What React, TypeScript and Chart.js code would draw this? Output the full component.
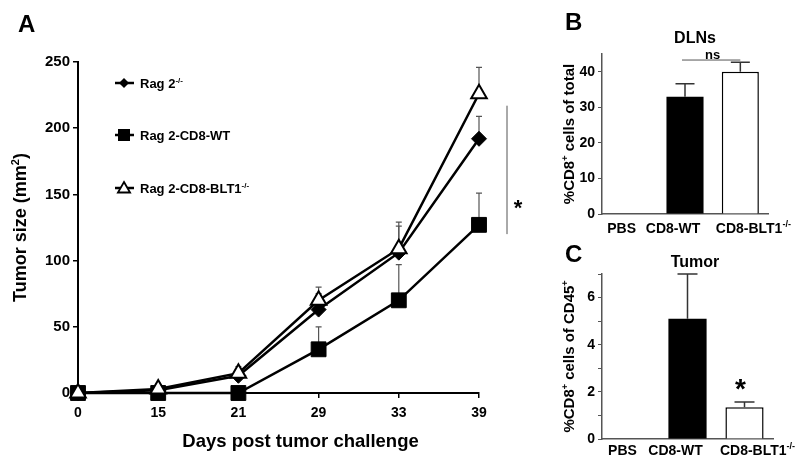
import React, { useEffect, useRef } from 'react';
import { Chart, registerables } from 'chart.js';

Chart.register(...registerables);

const FONT = '"Liberation Sans", Arial, Helvetica, sans-serif';

// ---- Panel A data ----
const days = ['0', '15', '21', '29', '33', '39'];
const rag2 = [0, 2, 13, 63, 106, 192];
const rag2Err = [0, 2, 4, 12, 20, 17];
const cd8wt = [0, 0, 0, 33, 70, 127];
const cd8wtErr = [0, 0, 2, 17, 27, 24];
const blt1 = [0, 3, 15, 70, 109, 226];
const blt1Err = [0, 2, 5, 10, 20, 20];

// ---- Panel B / C data ----
const groups = ['PBS', 'CD8-WT', 'CD8-BLT1'];
const dlnValues = [0, 33, 40];
const dlnErr = [0, 3.6, 2.7];
const tumorValues = [0, 5.1, 1.35];
const tumorErr = [0, 1.9, 0.22];

type Part = { t: string; sup?: boolean };

function drawRich(ctx: CanvasRenderingContext2D, parts: Part[], x: number, y: number, size: number, align: 'left' | 'center') {
  const supSize = Math.round(size * 0.62);
  const widths = parts.map((p) => {
    ctx.font = `bold ${p.sup ? supSize : size}px ${FONT}`;
    return ctx.measureText(p.t).width;
  });
  const total = widths.reduce((a, b) => a + b, 0);
  let cx = align === 'center' ? x - total / 2 : x;
  ctx.textAlign = 'left';
  ctx.textBaseline = 'alphabetic';
  parts.forEach((p, i) => {
    ctx.font = `bold ${p.sup ? supSize : size}px ${FONT}`;
    ctx.fillText(p.t, cx, p.sup ? y - size * 0.4 : y);
    cx += widths[i];
  });
}

function drawStar(ctx: CanvasRenderingContext2D, x: number, cy: number, size: number) {
  ctx.font = `bold ${size}px ${FONT}`;
  ctx.textAlign = 'center';
  ctx.textBaseline = 'alphabetic';
  ctx.fillText('*', x, cy + size * 0.57);
}

function marker(ctx: CanvasRenderingContext2D, kind: string, x: number, y: number, r: number) {
  ctx.beginPath();
  if (kind === 'diamond') {
    ctx.moveTo(x - r, y); ctx.lineTo(x, y - r); ctx.lineTo(x + r, y); ctx.lineTo(x, y + r);
    ctx.closePath();
    ctx.fillStyle = '#000'; ctx.fill();
  } else if (kind === 'square') {
    ctx.rect(x - r, y - r, 2 * r, 2 * r);
    ctx.fillStyle = '#000'; ctx.fill();
  } else {
    ctx.moveTo(x, y - r);
    ctx.lineTo(x + r * 0.866, y + r / 2);
    ctx.lineTo(x - r * 0.866, y + r / 2);
    ctx.closePath();
    ctx.fillStyle = '#fff'; ctx.fill();
    ctx.lineWidth = 1.8; ctx.strokeStyle = '#000'; ctx.stroke();
  }
}

const lineErrorPlugin = {
  id: 'lineErrors',
  beforeDatasetsDraw(chart: any) {
    const ctx = chart.ctx;
    const y = chart.scales.y;
    ctx.save();
    ctx.strokeStyle = '#555';
    ctx.lineWidth = 1.2;
    chart.data.datasets.forEach((ds: any, di: number) => {
      const meta = chart.getDatasetMeta(di);
      meta.data.forEach((pt: any, i: number) => {
        const e = ds.errors[i];
        if (!e) return;
        const top = y.getPixelForValue(ds.data[i] + e);
        ctx.beginPath();
        ctx.moveTo(pt.x, pt.y);
        ctx.lineTo(pt.x, top);
        ctx.moveTo(pt.x - 3, top);
        ctx.lineTo(pt.x + 3, top);
        ctx.stroke();
      });
    });
    ctx.restore();
  },
};

const annotA = {
  id: 'annotA',
  afterDraw(chart: any) {
    const ctx = chart.ctx;
    const area = chart.chartArea;
    const y = chart.scales.y;
    ctx.save();
    ctx.fillStyle = '#000';
    // panel letter
    ctx.font = `bold 24px ${FONT}`;
    ctx.textAlign = 'left';
    ctx.textBaseline = 'alphabetic';
    ctx.fillText('A', 18, 32);
    // legend
    const legend = [
      { kind: 'diamond', r: 5, parts: [{ t: 'Rag 2' }, { t: '-/-', sup: true }] },
      { kind: 'square', r: 6, parts: [{ t: 'Rag 2-CD8-WT' }] },
      { kind: 'triangle', r: 7, parts: [{ t: 'Rag 2-CD8-BLT1' }, { t: '-/-', sup: true }] },
    ];
    const rows = [83, 135, 188];
    legend.forEach((l, i) => {
      const ly = rows[i];
      ctx.strokeStyle = '#000';
      ctx.lineWidth = 2.5;
      ctx.beginPath();
      ctx.moveTo(area.left + 37, ly);
      ctx.lineTo(area.left + 56, ly);
      ctx.stroke();
      marker(ctx, l.kind, area.left + 46, ly + (l.kind === 'triangle' ? 1 : 0), l.r);
      ctx.fillStyle = '#000';
      drawRich(ctx, l.parts as Part[], area.left + 62, ly + 5, 13, 'left');
    });
    // y title
    ctx.save();
    ctx.translate(26, (area.top + area.bottom) / 2);
    ctx.rotate(-Math.PI / 2);
    drawRich(ctx, [{ t: 'Tumor size (mm' }, { t: '2', sup: true }, { t: ')' }], 0, 0, 18, 'center');
    ctx.restore();
    // x title
    drawRich(ctx, [{ t: 'Days post tumor challenge' }], (area.left + area.right) / 2 + 22, 447, 18.5, 'center');
    // significance bracket
    const bx = area.right + 28;
    ctx.strokeStyle = '#555';
    ctx.lineWidth = 1;
    ctx.beginPath();
    ctx.moveTo(bx, y.getPixelForValue(217));
    ctx.lineTo(bx, y.getPixelForValue(120));
    ctx.stroke();
    ctx.fillStyle = '#000';
    drawStar(ctx, bx + 11, y.getPixelForValue(144), 22);
    ctx.restore();
  },
};

function barErrorPlugin(errors: number[], cap: number) {
  return {
    id: 'barErrors',
    afterDatasetsDraw(chart: any) {
      const ctx = chart.ctx;
      const y = chart.scales.y;
      const meta = chart.getDatasetMeta(0);
      const data = chart.data.datasets[0].data;
      ctx.save();
      ctx.strokeStyle = '#333';
      ctx.lineWidth = 1.5;
      meta.data.forEach((bar: any, i: number) => {
        const e = errors[i];
        if (!e) return;
        const base = y.getPixelForValue(data[i]);
        const top = y.getPixelForValue(data[i] + e);
        ctx.beginPath();
        ctx.moveTo(bar.x, base);
        ctx.lineTo(bar.x, top);
        ctx.moveTo(bar.x - cap / 2, top);
        ctx.lineTo(bar.x + cap / 2, top);
        ctx.stroke();
      });
      ctx.restore();
    },
  };
}

const labelOffsets = [-8, -12, 13];

function barAnnot(letter: string, letterY: number, title: string, titleY: number, yTitle: Part[], labelY: number, extra: (chart: any) => void) {
  return {
    id: 'barAnnot',
    afterDraw(chart: any) {
      const ctx = chart.ctx;
      const area = chart.chartArea;
      const meta = chart.getDatasetMeta(0);
      ctx.save();
      ctx.fillStyle = '#000';
      ctx.font = `bold 24px ${FONT}`;
      ctx.textAlign = 'left';
      ctx.textBaseline = 'alphabetic';
      ctx.fillText(letter, 565, letterY);
      drawRich(ctx, [{ t: title }], 695, titleY, 16, 'center');
      ctx.save();
      ctx.translate(574, (area.top + area.bottom) / 2);
      ctx.rotate(-Math.PI / 2);
      drawRich(ctx, yTitle, 0, 0, 15, 'center');
      ctx.restore();
      groups.forEach((g, i) => {
        const parts: Part[] = i === 2 ? [{ t: g }, { t: '-/-', sup: true }] : [{ t: g }];
        drawRich(ctx, parts, meta.data[i].x + labelOffsets[i], labelY, 14, 'center');
      });
      extra(chart);
      ctx.restore();
    },
  };
}

function barConfig(values: number[], errors: number[], max: number, step: number, labelStep: number, padTop: number, padRight: number, bottom: number, plugin: any, cap: number) {
  return {
    type: 'bar' as const,
    data: {
      labels: groups,
      datasets: [
        {
          data: values,
          backgroundColor: ['#000', '#000', '#fff'],
          borderColor: '#000',
          borderWidth: [0, 0, 1.5],
          barPercentage: 0.67,
          categoryPercentage: 1,
        },
      ],
    },
    options: {
      animation: false,
      responsive: false,
      devicePixelRatio: 1,
      events: [],
      layout: { padding: { left: 0, top: padTop, right: padRight, bottom: 0 } },
      plugins: { legend: { display: false }, tooltip: { enabled: false } },
      scales: {
        x: {
          grid: { display: false },
          border: { color: '#555', width: 1.5 },
          ticks: { display: false },
          afterFit: (s: any) => { s.height = 469 - bottom; },
        },
        y: {
          min: 0,
          max,
          grid: { drawOnChartArea: false, drawTicks: true, tickLength: 4, color: '#555', lineWidth: 1 },
          border: { color: '#555', width: 1.5 },
          ticks: {
            stepSize: step,
            padding: 3,
            color: '#000',
            font: { size: 14, weight: 'bold', family: FONT },
            callback: (v: any) => (v % labelStep === 0 ? String(v) : ''),
          },
          afterFit: (s: any) => { s.width = 602; },
        },
      },
    },
    plugins: [barErrorPlugin(errors, cap), plugin],
  };
}

export default function App() {
  const refA = useRef<HTMLCanvasElement>(null);
  const refB = useRef<HTMLCanvasElement>(null);
  const refC = useRef<HTMLCanvasElement>(null);

  useEffect(() => {
    const common = {
      borderColor: '#000',
      borderWidth: 2.5,
      tension: 0,
      clip: false,
      pointBorderColor: '#000',
    };
    const chartA = new Chart(refA.current as HTMLCanvasElement, {
      type: 'line',
      data: {
        labels: days,
        datasets: [
          { ...common, label: 'Rag 2-/-', data: rag2, errors: rag2Err, pointStyle: 'rectRot', pointRadius: 7.5, pointBackgroundColor: '#000', pointBorderWidth: 1, order: 2 } as any,
          { ...common, label: 'Rag 2-CD8-WT', data: cd8wt, errors: cd8wtErr, pointStyle: 'rect', pointRadius: 10.5, pointBackgroundColor: '#000', pointBorderWidth: 1, order: 1 } as any,
          { ...common, label: 'Rag 2-CD8-BLT1-/-', data: blt1, errors: blt1Err, pointStyle: 'triangle', pointRadius: 9, pointBackgroundColor: '#fff', pointBorderWidth: 2, order: 0 } as any,
        ],
      },
      options: {
        animation: false,
        responsive: false,
        devicePixelRatio: 1,
        events: [],
        layout: { padding: { left: 0, top: 62, right: 321, bottom: 0 } },
        plugins: { legend: { display: false }, tooltip: { enabled: false } },
        scales: {
          x: {
            type: 'category',
            offset: false,
            grid: { drawOnChartArea: false, drawTicks: true, tickLength: 5, color: '#000', lineWidth: 1.5 },
            border: { color: '#000', width: 2 },
            ticks: { color: '#000', padding: 7, maxRotation: 0, autoSkip: false, font: { size: 14, weight: 'bold', family: FONT } },
            afterFit: (s: any) => { s.height = 76; },
          },
          y: {
            min: 0,
            max: 250,
            grid: { drawOnChartArea: false, drawTicks: true, tickLength: 5, color: '#000', lineWidth: 1.5 },
            border: { color: '#000', width: 2 },
            ticks: { stepSize: 50, color: '#000', padding: 3, font: { size: 15, weight: 'bold', family: FONT } },
            afterFit: (s: any) => { s.width = 78; },
          },
        },
      } as any,
      plugins: [lineErrorPlugin, annotA],
    });

    const annotB = barAnnot('B', 30, 'DLNs', 43, [{ t: '%CD8' }, { t: '+', sup: true }, { t: ' cells of total' }], 233, (chart: any) => {
      const ctx = chart.ctx;
      const meta = chart.getDatasetMeta(0);
      const y = chart.scales.y;
      const ly = y.getPixelForValue(43.3);
      ctx.strokeStyle = '#555';
      ctx.lineWidth = 1;
      ctx.beginPath();
      ctx.moveTo(meta.data[1].x - 3, ly);
      ctx.lineTo(meta.data[2].x, ly);
      ctx.stroke();
      ctx.fillStyle = '#000';
      ctx.font = `bold 13px ${FONT}`;
      ctx.textAlign = 'center';
      ctx.textBaseline = 'alphabetic';
      ctx.fillText('ns', (meta.data[1].x + meta.data[2].x) / 2, ly - 1.5);
    });
    const chartB = new Chart(refB.current as HTMLCanvasElement, barConfig(dlnValues, dlnErr, 45, 5, 10, 54, 32, 214, annotB, 19) as any);

    const annotC = barAnnot('C', 262, 'Tumor', 267, [{ t: '%CD8' }, { t: '+', sup: true }, { t: ' cells of CD45' }, { t: '+', sup: true }], 455, (chart: any) => {
      const ctx = chart.ctx;
      const meta = chart.getDatasetMeta(0);
      const y = chart.scales.y;
      ctx.fillStyle = '#000';
      drawStar(ctx, meta.data[2].x - 4, y.getPixelForValue(2.4), 28);
    });
    const chartC = new Chart(refC.current as HTMLCanvasElement, barConfig(tumorValues, tumorErr, 7, 1, 2, 274, 27, 439, annotC, 20) as any);

    return () => {
      chartA.destroy();
      chartB.destroy();
      chartC.destroy();
    };
  }, []);

  const cs: React.CSSProperties = { position: 'absolute', left: 0, top: 0, width: 800, height: 469 };
  return (
    <div style={{ position: 'fixed', left: 0, top: 0, width: 800, height: 469, background: '#fff', overflow: 'hidden' }}>
      <canvas ref={refA} width={800} height={469} style={cs} />
      <canvas ref={refB} width={800} height={469} style={cs} />
      <canvas ref={refC} width={800} height={469} style={cs} />
    </div>
  );
}
